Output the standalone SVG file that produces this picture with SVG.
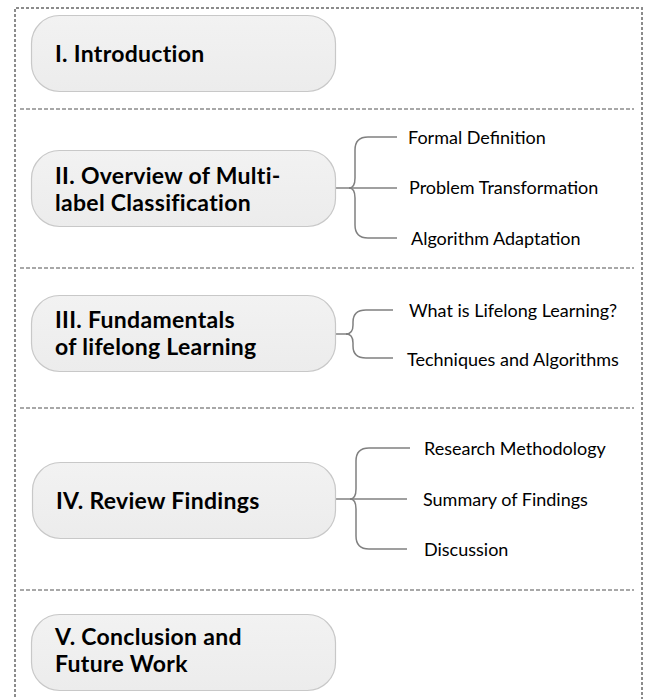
<svg xmlns="http://www.w3.org/2000/svg" width="647" height="699" viewBox="0 0 647 699">
<defs>
<linearGradient id="g" x1="0" y1="0" x2="0" y2="1">
<stop offset="0" stop-color="#f2f2f2"/>
<stop offset="1" stop-color="#ececec"/>
</linearGradient>
</defs>
<style>
.frame{fill:none;stroke:#8c8c8c;stroke-width:2;stroke-dasharray:3 2}
.sep{fill:none;stroke:#8c8c8c;stroke-width:1.5;stroke-dasharray:4 2}
.box{fill:url(#g);stroke:#c8c8c8;stroke-width:1.2}
.bt{font-family:Lato,"Liberation Sans",sans-serif;font-weight:bold;font-size:23px;letter-spacing:0.3px;fill:#000}
.lt{font-family:Lato,"Liberation Sans",sans-serif;font-size:18px;fill:#000}
.con{fill:none;stroke:#808080;stroke-width:1.5}
</style>
<g id="frame">
<path class="frame" d="M15,702 L15,8 L642,8 L642,702"/>
<line class="sep" x1="20" y1="109" x2="634" y2="109"/>
<line class="sep" x1="20" y1="268" x2="634" y2="268"/>
<line class="sep" x1="20" y1="408" x2="634" y2="408"/>
<line class="sep" x1="20" y1="590" x2="634" y2="590"/>
</g>
<g id="connectors">
<path class="con" d="M336,188 L397,188"/>
<path class="con" d="M349,188 Q355,188 355,178 L355,150 Q355,137 368,137 L397,137"/>
<path class="con" d="M349,188 Q355,188 355,198 L355,225 Q355,238 368,238 L397,238"/>
<path class="con" d="M336,334 L349,334"/>
<path class="con" d="M346,334 Q353,334 353,325 L353,322 Q353,310 366,310 L393,310"/>
<path class="con" d="M346,334 Q353,334 353,343 L353,346 Q353,358 366,358 L393,358"/>
<path class="con" d="M336,499 L407,499"/>
<path class="con" d="M350,499 Q356,499 356,489 L356,461 Q356,448 369,448 L410,448"/>
<path class="con" d="M350,499 Q356,499 356,509 L356,536 Q356,549 369,549 L407,549"/>
</g>
<g id="n1">
<rect class="box" x="31.5" y="15.5" width="304" height="76" rx="28"/>
<text class="bt" x="55" y="62">I. Introduction</text>
</g>
<g id="n2">
<rect class="box" x="31.5" y="150.5" width="304" height="76" rx="28"/>
<text class="bt" x="55" y="184">II. Overview of Multi-</text>
<text class="bt" x="55" y="211">label Classification</text>
</g>
<g id="n3">
<rect class="box" x="31.5" y="295.5" width="304" height="76" rx="28"/>
<text class="bt" x="55" y="328">III. Fundamentals</text>
<text class="bt" x="55" y="355">of lifelong Learning</text>
</g>
<g id="n4">
<rect class="box" x="32.5" y="462.5" width="303" height="76" rx="28"/>
<text class="bt" x="56" y="509">IV. Review Findings</text>
</g>
<g id="n5">
<rect class="box" x="31.5" y="614.5" width="304" height="76" rx="28"/>
<text class="bt" x="55" y="645">V. Conclusion and</text>
<text class="bt" x="55" y="672">Future Work</text>
</g>
<g id="l2a"><text class="lt" x="408" y="144">Formal Definition</text></g>
<g id="l2b"><text class="lt" x="409" y="194">Problem Transformation</text></g>
<g id="l2c"><text class="lt" x="411" y="245">Algorithm Adaptation</text></g>
<g id="l3a"><text class="lt" x="409" y="317">What is Lifelong Learning?</text></g>
<g id="l3b"><text class="lt" x="407" y="366">Techniques and Algorithms</text></g>
<g id="l4a"><text class="lt" x="424" y="455">Research Methodology</text></g>
<g id="l4b"><text class="lt" x="423" y="506">Summary of Findings</text></g>
<g id="l4c"><text class="lt" x="424" y="556">Discussion</text></g>
</svg>
